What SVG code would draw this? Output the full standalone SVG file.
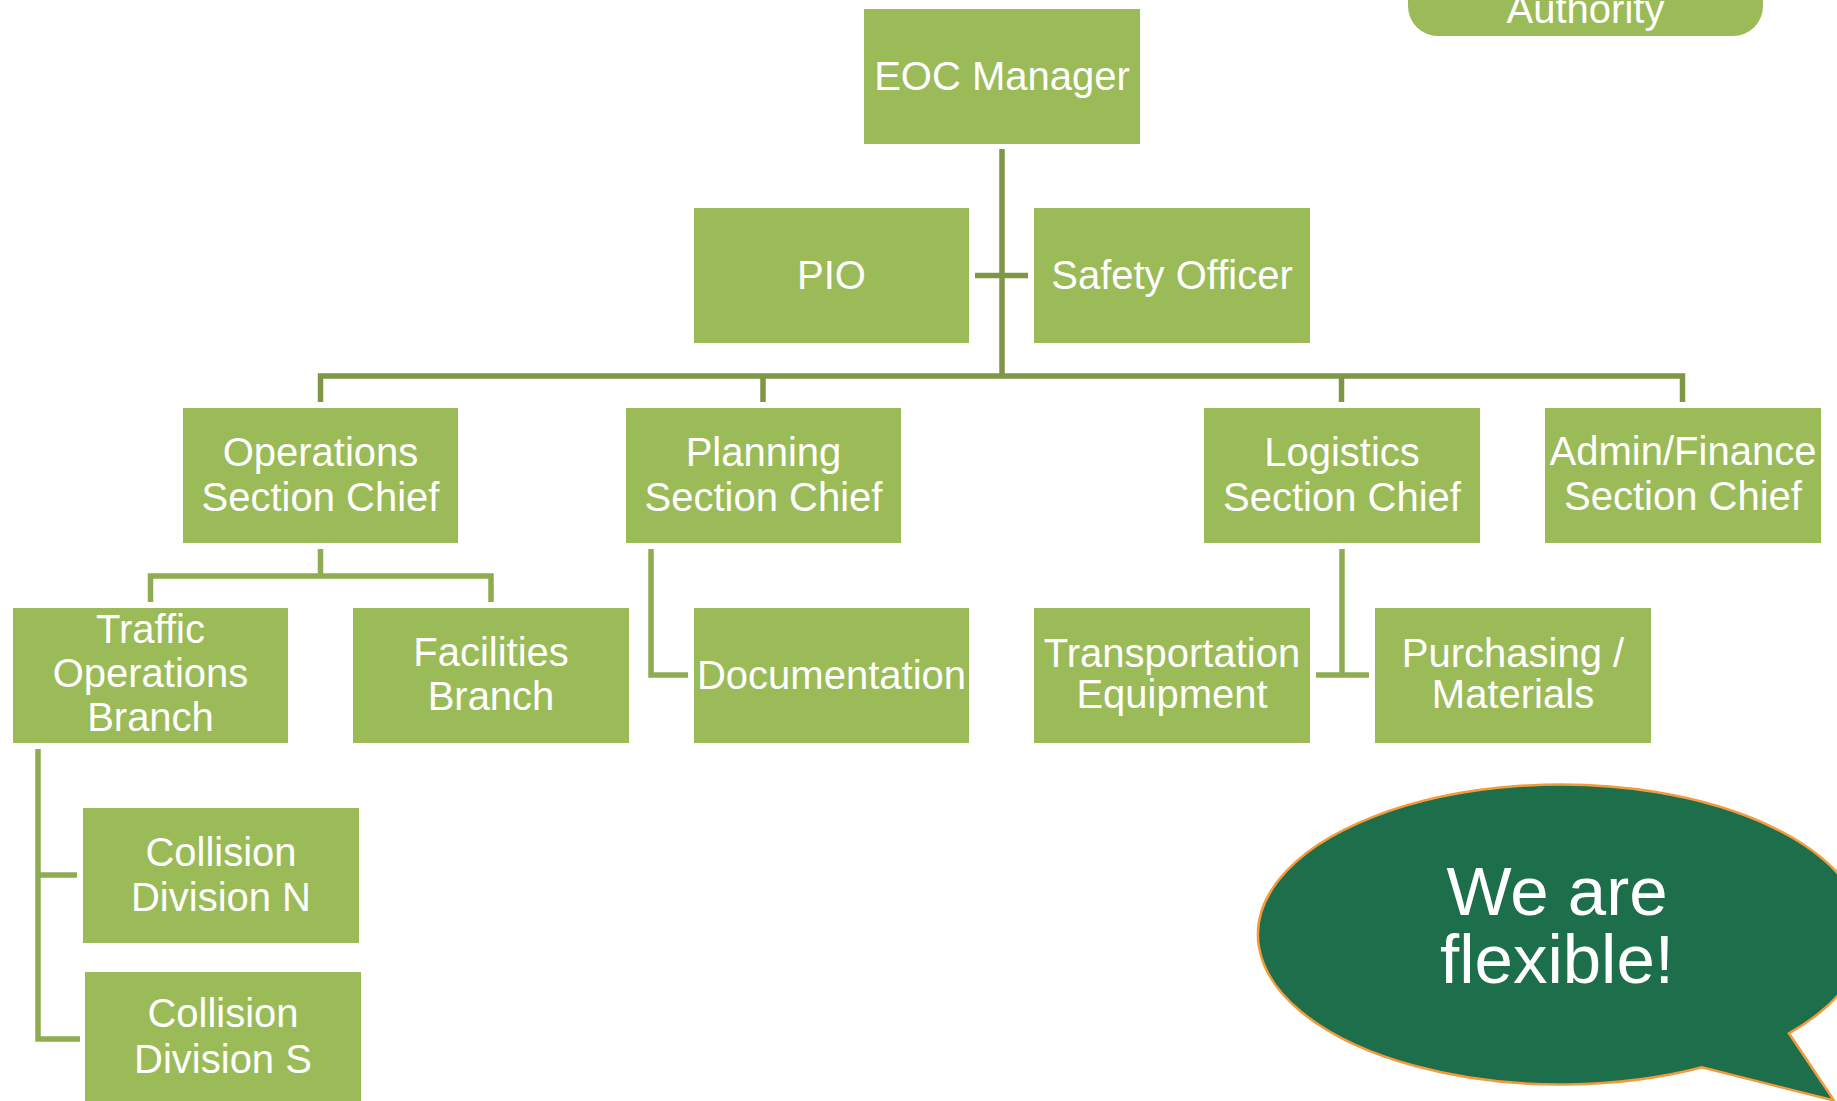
<svg xmlns="http://www.w3.org/2000/svg" width="1837" height="1101" viewBox="0 0 1837 1101">
<style>
.box{fill:#9BBB59}
.t{font-family:"Liberation Sans",Arial,sans-serif;font-size:40px;fill:#FFFFFF;text-anchor:middle}
.c1{fill:none;stroke:#7E9747;stroke-width:5.5}
.c2{fill:none;stroke:#8DAD50;stroke-width:5.5}
.big{font-family:"Liberation Sans",Arial,sans-serif;font-size:69px;fill:#FFFFFF;text-anchor:middle}
</style>
<rect width="1837" height="1101" fill="#FFFFFF"/>
<g id="connectors">
<path class="c1" d="M1002 149V378"/>
<path class="c1" d="M975 275.5H1028"/>
<path class="c1" d="M320.5 402V376H1682.5V402"/>
<path class="c1" d="M763 376V402"/>
<path class="c1" d="M1341.5 376V402"/>
<path class="c2" d="M320.5 549V576"/>
<path class="c2" d="M150.5 602V576H491V602"/>
<path class="c2" d="M651 549V675H688"/>
<path class="c2" d="M1342 549V675"/>
<path class="c2" d="M1316 675H1369"/>
<path class="c2" d="M38 749V1039H80"/>
<path class="c2" d="M38 875H77"/>
</g>
<g id="authority">
<rect class="box" x="1408" y="-40" width="355" height="76" rx="30"/>
<text class="t" x="1585.5" y="22.5">Authority</text>
</g>
<g id="eoc-manager">
<rect class="box" x="864" y="9" width="276" height="135"/>
<text class="t" x="1002" y="90">EOC Manager</text>
</g>
<g id="pio">
<rect class="box" x="694" y="208" width="275" height="135"/>
<text class="t" x="831.5" y="289">PIO</text>
</g>
<g id="safety-officer">
<rect class="box" x="1034" y="208" width="276" height="135"/>
<text class="t" x="1172" y="289">Safety Officer</text>
</g>
<g id="operations">
<rect class="box" x="183" y="408" width="275" height="135"/>
<text class="t" x="320.5" y="466">Operations</text>
<text class="t" x="320.5" y="510.5">Section Chief</text>
</g>
<g id="planning">
<rect class="box" x="626" y="408" width="275" height="135"/>
<text class="t" x="763.5" y="466">Planning</text>
<text class="t" x="763.5" y="510.5">Section Chief</text>
</g>
<g id="logistics">
<rect class="box" x="1204" y="408" width="276" height="135"/>
<text class="t" x="1342" y="466">Logistics</text>
<text class="t" x="1342" y="510.5">Section Chief</text>
</g>
<g id="admin-finance">
<rect class="box" x="1545" y="408" width="276" height="135"/>
<text class="t" x="1683" y="465">Admin/Finance</text>
<text class="t" x="1683" y="510">Section Chief</text>
</g>
<g id="traffic-operations">
<rect class="box" x="13" y="608" width="275" height="135"/>
<text class="t" x="150.5" y="643">Traffic</text>
<text class="t" x="150.5" y="687">Operations</text>
<text class="t" x="150.5" y="731">Branch</text>
</g>
<g id="facilities">
<rect class="box" x="353" y="608" width="276" height="135"/>
<text class="t" x="491" y="666">Facilities</text>
<text class="t" x="491" y="710">Branch</text>
</g>
<g id="documentation">
<rect class="box" x="694" y="608" width="275" height="135"/>
<text class="t" x="831.5" y="689">Documentation</text>
</g>
<g id="transportation">
<rect class="box" x="1034" y="608" width="276" height="135"/>
<text class="t" x="1172" y="667">Transportation</text>
<text class="t" x="1172" y="708">Equipment</text>
</g>
<g id="purchasing">
<rect class="box" x="1375" y="608" width="276" height="135"/>
<text class="t" x="1513" y="667">Purchasing /</text>
<text class="t" x="1513" y="708">Materials</text>
</g>
<g id="collision-n">
<rect class="box" x="83" y="808" width="276" height="135"/>
<text class="t" x="221" y="866">Collision</text>
<text class="t" x="221" y="910.5">Division N</text>
</g>
<g id="collision-s">
<rect class="box" x="85" y="972" width="276" height="135"/>
<text class="t" x="223" y="1027">Collision</text>
<text class="t" x="223" y="1073">Division S</text>
</g>
<g id="callout">
<path d="M1702 1067.3A303 150 0 1 1 1789 1033.3L1834 1100.5Z" fill="#1D6E4B" stroke="#F29A3C" stroke-width="2.5" stroke-linejoin="miter"/>
<text class="big" x="1557" y="915">We are</text>
<text class="big" x="1557" y="982.5">flexible!</text>
</g>
</svg>
